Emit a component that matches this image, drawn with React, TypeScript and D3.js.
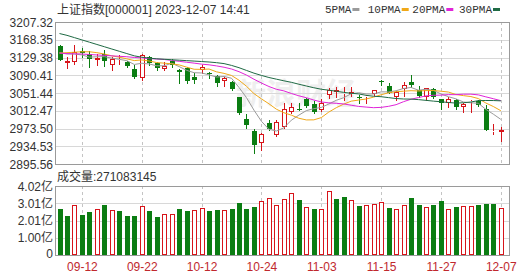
import React from 'react';
import * as d3 from 'd3';

const dates = [
  '09-07','09-08','09-11','09-12','09-13','09-14','09-15','09-18','09-19','09-20',
  '09-21','09-22','09-25','09-26','09-27','09-28','10-09','10-10','10-11','10-12',
  '10-13','10-16','10-17','10-18','10-19','10-20','10-23','10-24','10-25','10-26',
  '10-27','10-30','10-31','11-01','11-02','11-03','11-06','11-07','11-08','11-09',
  '11-10','11-13','11-14','11-15','11-16','11-17','11-20','11-21','11-22','11-23',
  '11-24','11-27','11-28','11-29','11-30','12-01','12-04','12-05','12-06','12-07'];

const opens = [
  3154, 3118, 3120, 3143, 3138, 3124, 3138, 3113, 3124, 3120,
  3104, 3084, 3130, 3117, 3105, 3122, 3103, 3106, 3086, 3102,
  3095, 3088, 3078, 3076, 3042, 2994, 2969, 2941, 2986, 2960,
  2977, 3010, 3017, 3038, 3027, 3014, 3047, 3054, 3049, 3049,
  3043, 3042, 3050, 3077, 3067, 3043, 3060, 3076, 3058, 3042,
  3060, 3038, 3029, 3036, 3020, 3031.5, 3034, 3016, 2967.5, 2965];
const highs = [
  3156, 3131, 3156, 3151, 3144, 3138, 3145, 3130, 3135, 3122,
  3113, 3138, 3133, 3120, 3120, 3125, 3104, 3109, 3095, 3113,
  3098, 3090, 3086, 3078.5, 3042, 3005, 2972, 2963, 2992, 2992,
  3029, 3029, 3029, 3040, 3034, 3038, 3062, 3065, 3065, 3065,
  3047, 3047, 3058, 3080, 3073, 3055, 3076, 3091, 3067, 3063,
  3062, 3038, 3042, 3038, 3029, 3036, 3036, 3025, 2984, 2976];
const lows = [
  3123, 3107, 3115, 3131, 3109, 3113, 3110, 3101, 3116, 3109,
  3084, 3081, 3113, 3103, 3103, 3109, 3074, 3074, 3074, 3095,
  3084, 3067, 3067, 3058, 3005, 2975, 2920, 2926, 2970, 2956,
  2974, 3007, 3015, 3021, 3008, 3012, 3040, 3043, 3036, 3045,
  3029, 3030, 3047, 3069, 3051, 3036, 3045, 3065, 3042, 3036,
  3040, 3016, 3020, 3016, 3010, 3010, 3023, 2970, 2961, 2947];
const closes = [
  3124, 3121, 3142, 3139, 3125, 3128, 3122, 3126, 3125.5, 3111,
  3086, 3135, 3118, 3106, 3111, 3114, 3098, 3077, 3080, 3108,
  3093, 3074, 3084, 3060, 3007, 2981, 2937, 2961, 2973, 2988,
  3016, 3021, 3016, 3023, 3009, 3030, 3058, 3057, 3051.5, 3053,
  3041, 3044, 3057, 3075, 3052, 3054, 3069, 3068, 3045, 3062,
  3042, 3030, 3037.5, 3021.5, 3027.5, 3033, 3025, 2971, 2968.5, 2969.5];

// volume in 亿
const volumes = [
  2.68, 2.27, 2.91, 2.33, 2.51, 2.68, 2.93, 2.62, 2.56, 2.27,
  2.27, 2.85, 2.56, 2.21, 2.39, 2.39, 2.68, 2.56, 2.62, 2.74,
  2.56, 2.62, 2.62, 2.68, 3.03, 2.68, 2.80, 3.15, 3.32, 2.91,
  3.26, 3.61, 3.20, 2.80, 2.68, 2.68, 3.73, 3.26, 3.38, 3.20,
  2.85, 2.91, 2.97, 3.09, 2.74, 2.68, 2.91, 3.32, 2.91, 2.80,
  2.91, 3.15, 2.68, 2.80, 2.85, 2.85, 2.91, 2.97, 2.97, 2.71];

const ma5 = [
  3140, 3137, 3137, 3135, 3130.2, 3131, 3131.2, 3128, 3125.3, 3122.5,
  3114.1, 3116.7, 3115.1, 3111.2, 3111.2, 3116.8, 3109.4, 3101.2, 3096, 3095.4,
  3091.2, 3086.4, 3087.8, 3083.8, 3063.6, 3041.2, 3013.8, 2989.2, 2971.8, 2968,
  2975, 2991.8, 3002.8, 3012.8, 3017, 3019.8, 3027.2, 3035.4, 3041.1, 3049.9,
  3052.1, 3049.3, 3049.3, 3054, 3053.8, 3056.4, 3061.4, 3063.6, 3057.6, 3059.6,
  3057.2, 3049.4, 3043.3, 3038.6, 3031.7, 3029.9, 3028.9, 3015.6, 3005, 2993.6];
const ma10 = [
  3139, 3140, 3141, 3142, 3142, 3140, 3137, 3133, 3130, 3126.4,
  3122.6, 3124, 3121.6, 3118.3, 3116.9, 3115.5, 3113.1, 3108.2, 3103.6, 3103.3,
  3104, 3097.9, 3094.5, 3089.9, 3079.5, 3066.2, 3050.1, 3038.5, 3027.8, 3015.8,
  3008.1, 3002.8, 2996, 2992.3, 2992.5, 2997.4, 3009.5, 3019.1, 3027, 3033.5,
  3036, 3038.3, 3042.4, 3047.6, 3051.9, 3054.3, 3055.4, 3056.5, 3055.8, 3056.7,
  3056.8, 3055.4, 3053.5, 3048.1, 3045.7, 3043.6, 3039.2, 3029.5, 3021.8, 3012.6];
const ma20 = [
  3139, 3138, 3137.5, 3137, 3136, 3135, 3134, 3133, 3132, 3131,
  3129.5, 3128.5, 3127, 3126, 3125, 3123, 3121, 3119, 3117, 3114.8,
  3113.3, 3110.9, 3108, 3104.1, 3098.2, 3090.8, 3081.6, 3073.3, 3065.7, 3059.6,
  3056.1, 3050.4, 3045.3, 3041.1, 3036, 3031.8, 3029.8, 3028.8, 3027.4, 3024.6,
  3022, 3020.5, 3019.2, 3019.9, 3022.2, 3025.8, 3032.4, 3037.8, 3041.4, 3045.1,
  3046.4, 3046.8, 3047.9, 3047.8, 3048.8, 3048.9, 3047.3, 3043, 3038.9, 3034.6];
const ma30 = [
  3182, 3178, 3173, 3168, 3163, 3158, 3153, 3148, 3143, 3138,
  3133, 3130, 3128, 3126.5, 3125.5, 3124.5, 3123.5, 3122.5, 3121.5, 3120.5,
  3119.5, 3118, 3116, 3112, 3107, 3101, 3095, 3090, 3085.5, 3081.8,
  3078.2, 3074.9, 3070.7, 3066.8, 3063, 3059.7, 3057.6, 3055.3, 3052.8, 3050.9,
  3049.4, 3046.3, 3044.3, 3043.3, 3041.3, 3039.3, 3038.3, 3038, 3036.9, 3035.3,
  3033.6, 3032.2, 3030.6, 3029.3, 3030, 3031.7, 3034.7, 3035, 3034.9, 3034.2];

const priceTicks = [3207.32, 3168.35, 3129.38, 3090.41, 3051.44, 3012.47, 2973.50, 2934.53, 2895.56];
const volTicks = [4.02, 3.01, 2.01, 1.00, 0];
const volTickLabels = ['4.02亿', '3.01亿', '2.01亿', '1.00亿', '0'];
const dateTicks = ['09-12', '09-22', '10-12', '10-24', '11-03', '11-15', '11-27', '12-07'];
const maNames = ['5PMA', '10PMA', '20PMA', '30PMA'];
const titleText = '上证指数[000001] 2023-12-07 14:41';
const volumeText = '成交量:271083145';

const RED = '#d7141a';
const GREEN = '#0b7d12';
const maColors = ['#9a9a9a', '#f0a818', '#e024d8', '#1f6a44'];
const FONT = "'Liberation Sans', Arial, 'Noto Sans CJK SC', sans-serif";

export default function App() {
  const W = 530, H = 276;
  const L = 55, R = 509, PT = 22, PB = 164, VT = 186, VB = 255;
  const x = d3.scalePoint<string>().domain(dates).range([59.5, 500.8]);
  const yP = d3.scaleLinear().domain([2895.56, 3207.32]).range([PB, PT]);
  const yV = d3.scaleLinear().domain([0, 4.02]).range([VB, VT]);

  const maSeries = [ma5, ma10, ma20, ma30];
  const line = d3.line<number>()
    .x((_, i) => x(dates[i]) as number)
    .y((v) => yP(v));

  const legendX = [325, 367.7, 412.3, 459];
  const cx = (d: string) => Math.round(x(d) as number);

  return (
    <svg width={W} height={H} style={{ position: 'absolute', left: 0, top: 0, background: '#fff' }}
      fontFamily={FONT}>
      <rect x={0} y={0} width={W} height={H} fill="#fff" />
      {/* title */}
      <text x={57} y={14} fontSize={12} fill="#333">{titleText}</text>
      {/* legend */}
      {maNames.map((n, k) => (
        <g key={n}>
          <text x={legendX[k]} y={13} fontSize={11} fill="#333" fontFamily="'Liberation Mono', 'DejaVu Sans Mono', monospace">{n}</text>
          <rect x={legendX[k] + n.length * 6.6 + 1} y={8} width={7} height={3} fill={maColors[k]} />
        </g>
      ))}

      {/* watermark */}
      <text x={236} y={104} fontSize={30} fill="#efefef" fontFamily="'Noto Sans CJK SC', sans-serif" fontWeight="bold">新浪财经</text>

      {/* gridlines main */}
      <g shapeRendering="crispEdges">
        {priceTicks.slice(1, -1).map((t) => (
          <line key={t} x1={L} x2={R} y1={Math.round(yP(t)) + 0.5} y2={Math.round(yP(t)) + 0.5} stroke="#d8d8d8" />
        ))}
        {volTicks.slice(1, -1).map((t) => (
          <line key={t} x1={L} x2={R} y1={Math.round(yV(t)) + 0.5} y2={Math.round(yV(t)) + 0.5} stroke="#d8d8d8" />
        ))}
        {dateTicks.map((d) => (
          <g key={d}>
            <line x1={cx(d) + 0.5} x2={cx(d) + 0.5} y1={PT} y2={PB} stroke="#c4c4c4" strokeDasharray="3,3" />
            <line x1={cx(d) + 0.5} x2={cx(d) + 0.5} y1={VT} y2={VB} stroke="#c4c4c4" strokeDasharray="3,3" />
          </g>
        ))}
      </g>

      {/* candles */}
      <g shapeRendering="crispEdges">
        {dates.map((d, i) => {
          const c = cx(d);
          const up = closes[i] >= opens[i];
          const col = up ? RED : GREEN;
          const top = Math.round(yP(Math.max(opens[i], closes[i])));
          const bot = Math.round(yP(Math.min(opens[i], closes[i])));
          const hi = Math.round(yP(highs[i]));
          const lo = Math.round(yP(lows[i]));
          const h = Math.max(1, bot - top);
          return (
            <g key={d}>
              <line x1={c + 0.5} x2={c + 0.5} y1={hi} y2={top} stroke={col} />
              <line x1={c + 0.5} x2={c + 0.5} y1={top + h} y2={lo + 1} stroke={col} />
              {up ? (
                <rect x={c - 1.5} y={top + 0.5} width={4} height={Math.max(0, h - 1)} fill="#fff" stroke={col} />
              ) : (
                <rect x={c - 2} y={top} width={5} height={h} fill={col} />
              )}
            </g>
          );
        })}
      </g>

      {/* moving averages */}
      {maSeries.map((s, k) => (
        <path key={k} d={line(s) || ''} fill="none" stroke={maColors[k]} strokeWidth={1} />
      ))}

      {/* volume bars */}
      <g shapeRendering="crispEdges">
        {dates.map((d, i) => {
          const c = cx(d);
          const up = i === 0 ? closes[i] >= opens[i] : closes[i] >= closes[i - 1];
          const top = Math.round(yV(volumes[i]));
          return up ? (
            <rect key={d} x={c - 1.5} y={top + 0.5} width={4} height={VB - top - 1} fill="#fff" stroke={RED} />
          ) : (
            <rect key={d} x={c - 2} y={top} width={5} height={VB - top} fill={GREEN} />
          );
        })}
      </g>

      {/* borders */}
      <g shapeRendering="crispEdges" fill="none" stroke="#9a9a9a">
        <rect x={L + 0.5} y={PT + 0.5} width={R - L} height={PB - PT} />
        <rect x={L + 0.5} y={VT + 0.5} width={R - L} height={VB - VT} />
      </g>

      {/* price axis labels */}
      {priceTicks.map((t) => (
        <text key={t} x={53} y={yP(t) + 4.5} fontSize={12} fill="#333" textAnchor="end">{t.toFixed(2)}</text>
      ))}
      {/* volume axis labels */}
      <text x={57} y={181} fontSize={12} fill="#333">{volumeText}</text>
      {volTicks.map((t, k) => (
        <text key={t} x={53} y={yV(t) + 4.5 - (t === 0 ? 2 : 0)} fontSize={12} fill="#333" textAnchor="end">{volTickLabels[k]}</text>
      ))}
      {/* date labels */}
      {dateTicks.map((d) => (
        <text key={d} x={(x(d) as number) + 0.5} y={271} fontSize={12} fill="#c0282d" textAnchor="middle">{d}</text>
      ))}
    </svg>
  );
}
